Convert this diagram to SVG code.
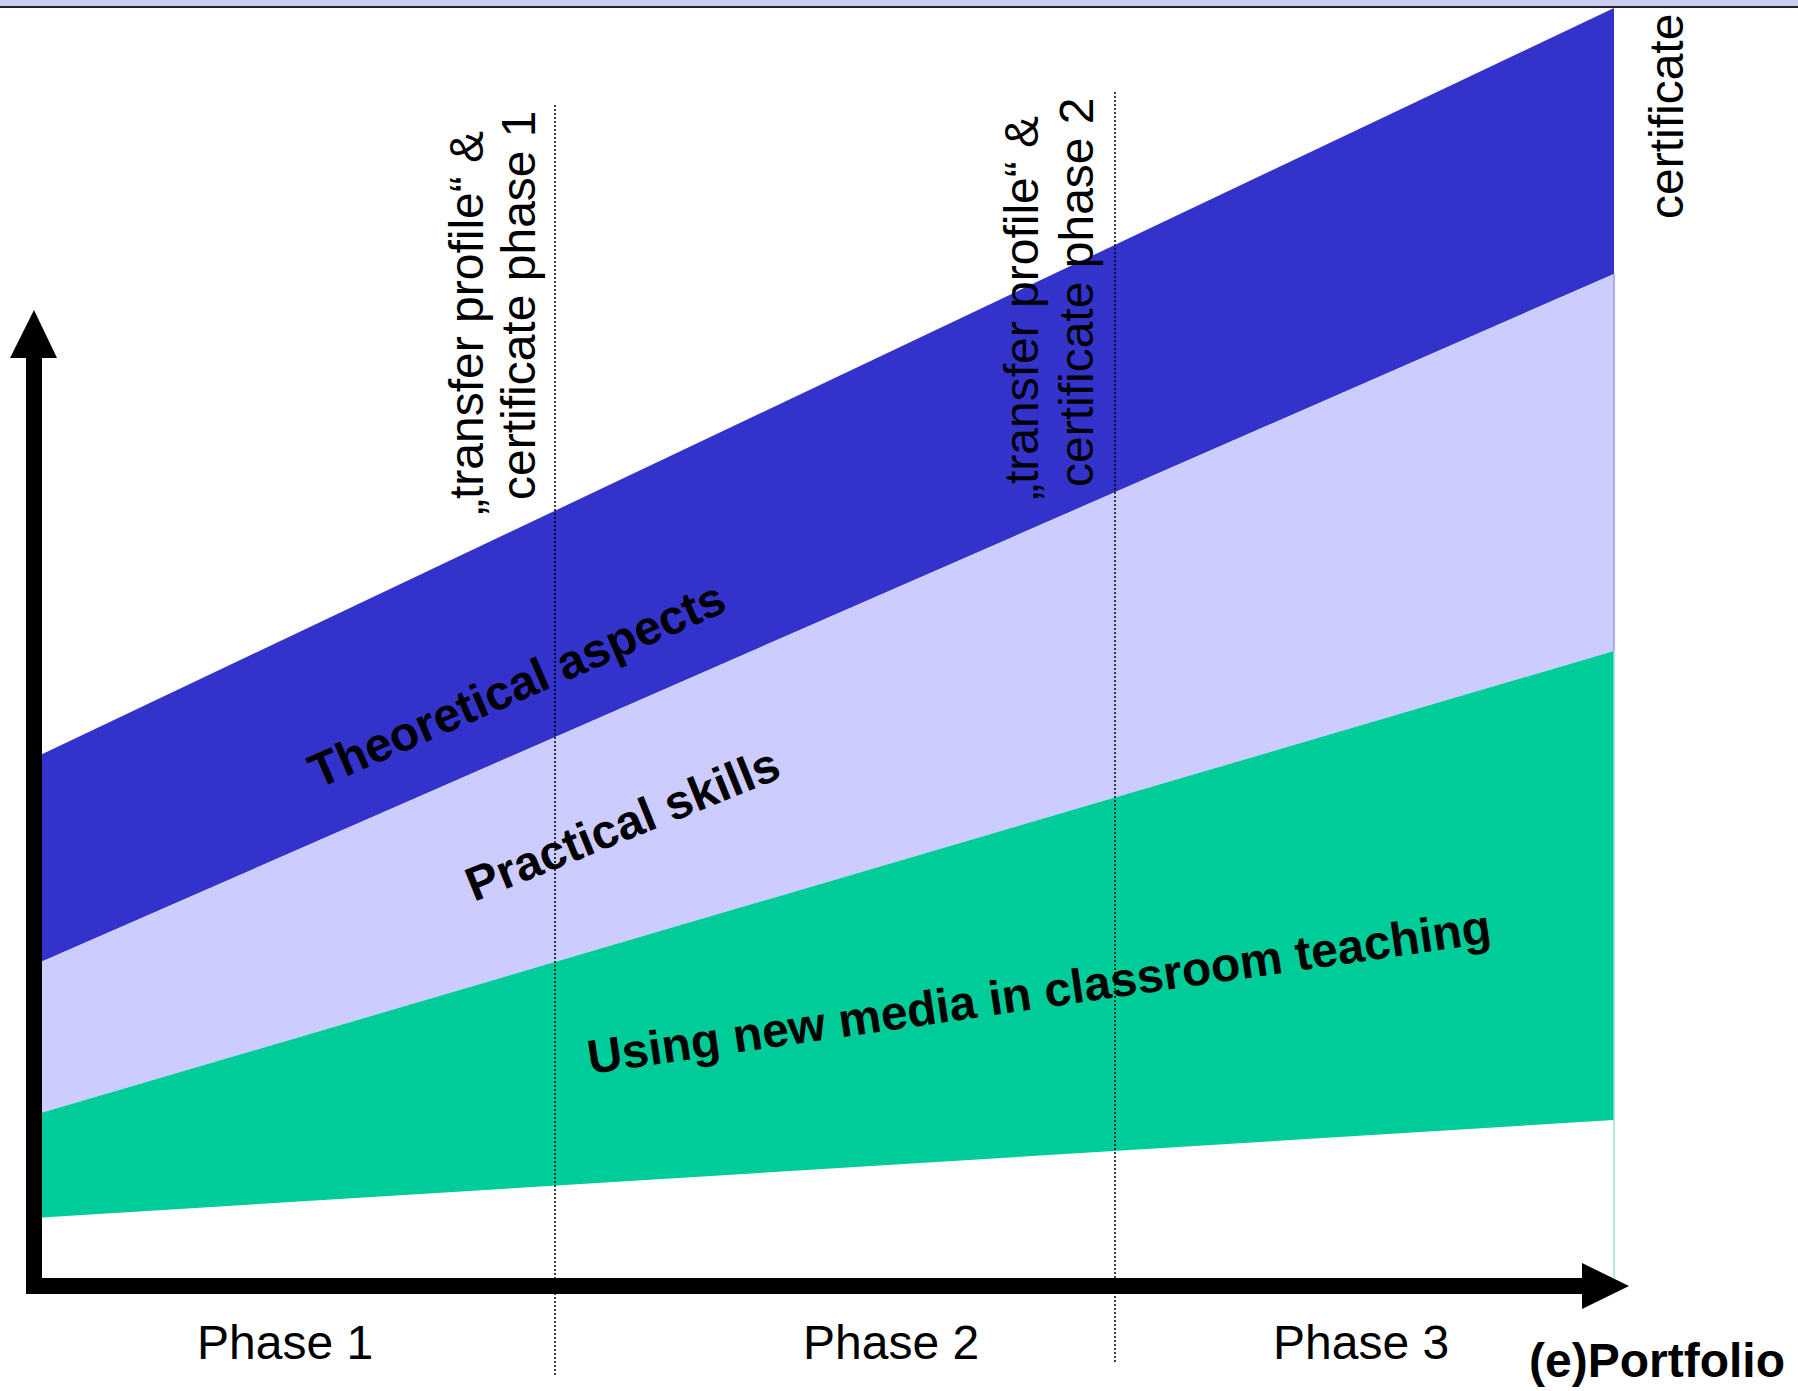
<svg xmlns="http://www.w3.org/2000/svg" width="1798" height="1391" viewBox="0 0 1798 1391">
<style>
.lbl{font-family:"Liberation Sans",Arial,sans-serif;font-size:48px;fill:#000}
.bold{font-weight:bold}
.dot{stroke:#000;stroke-width:1.5;stroke-dasharray:2,2;fill:none}
</style>
<rect x="0" y="0" width="1798" height="1391" fill="#fff"/>
<g id="topbar">
<rect x="0" y="0" width="1798" height="7" fill="#ccccee"/>
<line x1="0" y1="7" x2="1798" y2="7" stroke="#222233" stroke-width="2"/>
</g>
<g id="band-theory">
<polygon points="34,758 1614,8 1614,274 34,965" fill="#3333cc"/>
</g>
<g id="band-practical">
<polygon points="34,965 1614,274 1614,651 34,1115" fill="#ccccff"/>
</g>
<g id="band-media">
<polygon points="34,1115 1614,651 1614,1120 34,1218" fill="#00cc99"/>
</g>
<g id="edges">
<line x1="1614" y1="274" x2="1614" y2="651" stroke="#9999ee" stroke-width="1.5"/>
<line x1="1614" y1="651" x2="1614" y2="1278" stroke="#99dddd" stroke-width="1.5"/>
</g>
<g id="connectors">
<line class="dot" x1="555" y1="105" x2="555" y2="1377"/>
<line class="dot" x1="1115" y1="92" x2="1115" y2="1362"/>
</g>
<g id="axes">
<rect x="26" y="350" width="16" height="944" fill="#000"/>
<polygon points="34,310 10,358 57,358" fill="#000"/>
<rect x="26" y="1278" width="1562" height="16" fill="#000"/>
<polygon points="1629,1286 1582,1263 1582,1309" fill="#000"/>
</g>
<g id="label-theory">
<text class="lbl bold" transform="translate(318,789) rotate(-23.5)">Theoretical aspects</text>
</g>
<g id="label-practical">
<text class="lbl bold" transform="translate(474,902) rotate(-22)">Practical skills</text>
</g>
<g id="label-media">
<text class="lbl bold" transform="translate(590,1074) rotate(-8.3)">Using new media in classroom teaching</text>
</g>
<g id="milestone-1">
<text class="lbl" transform="translate(483,515) rotate(-90)">„transfer profile“ &amp;</text>
<text class="lbl" transform="translate(535,500) rotate(-90)">certificate phase 1</text>
</g>
<g id="milestone-2">
<text class="lbl" transform="translate(1038,500) rotate(-90)">„transfer profile“ &amp;</text>
<text class="lbl" transform="translate(1093,487) rotate(-90)">certificate phase 2</text>
</g>
<g id="milestone-3">
<text class="lbl" transform="translate(1683,219) rotate(-90)">certificate</text>
</g>
<g id="phases">
<text class="lbl" x="197" y="1359">Phase 1</text>
<text class="lbl" x="803" y="1359">Phase 2</text>
<text class="lbl" x="1273" y="1359">Phase 3</text>
<text class="lbl bold" x="1529" y="1377">(e)Portfolio</text>
</g>
</svg>
